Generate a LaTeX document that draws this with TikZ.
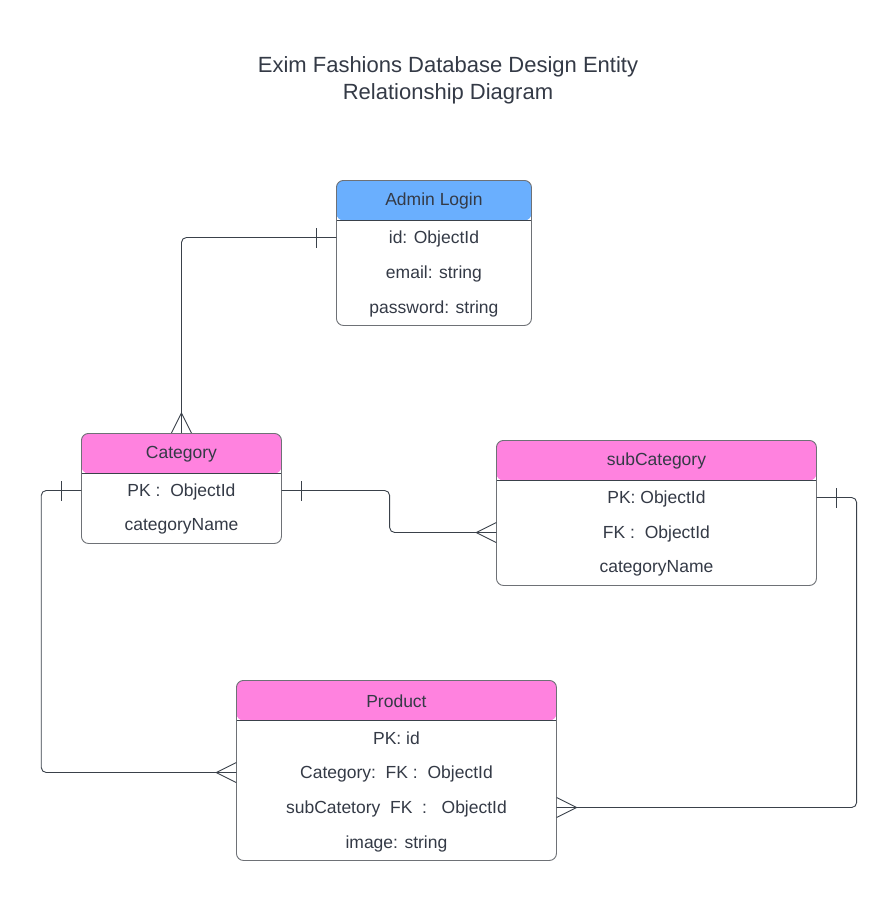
\documentclass[tikz,border=0pt]{standalone}
\usepackage{fontspec}
\setmainfont{Liberation Sans}
\usetikzlibrary{calc}
\definecolor{hblue}{HTML}{6AAFFE}
\definecolor{hpink}{HTML}{FF82DF}
\definecolor{txt}{HTML}{343A46}
\definecolor{ln}{HTML}{3A414A}
\definecolor{bord}{HTML}{6E7176}
\tikzset{
  entity/.style={draw=bord, line width=0.9pt, rounded corners=7pt, anchor=north west, inner sep=0pt,
    path picture={\fill[#1] (path picture bounding box.north west) rectangle ([yshift=-40pt]path picture bounding box.north east);
      \draw[ln, line width=0.9pt] ([yshift=-40pt]path picture bounding box.north west) -- ([yshift=-40pt]path picture bounding box.north east);}},
  hdr/.style={font=\fontsize{17.5}{20}\selectfont, text=txt, inner sep=0pt, yshift=-1pt},
  row/.style={font=\fontsize{17.5}{20}\selectfont, text=txt, inner sep=0pt, minimum height=35pt},
  rowtext/.style={font=\fontsize{17.5}{20}\selectfont, text=txt, inner sep=0pt, yshift=-1pt},
  conn/.style={draw=ln, line width=0.9pt, rounded corners=5pt},
  ermark/.style={draw=ln, line width=0.9pt},
}
\begin{document}
\begin{tikzpicture}[x=1pt,y=1pt]
\useasboundingbox[fill=white] (0,0) rectangle (896,-900);
% title
\node[font=\fontsize{22}{27}\selectfont, text=txt, align=center] (title) at (448,-80) {Exim Fashions Database Design Entity\\Relationship Diagram};

% Admin Login
\node[entity=hblue, minimum width=195pt, minimum height=145pt] (admin) at (336,-180) {};
\node[hdr] (adminH) at ([yshift=-20pt]admin.north) {Admin Login};
\node[row, minimum width=195pt] (adminid) at ([yshift=-57.5pt]admin.north) {};
\node[row, minimum width=195pt] (adminemail) at ([yshift=-92.5pt]admin.north) {};
\node[row, minimum width=195pt] (adminpw) at ([yshift=-127.5pt]admin.north) {};
\node[rowtext] at (adminid) {id: ObjectId};
\node[rowtext] at (adminemail) {email: string};
\node[rowtext] at (adminpw) {password: string};

% Category
\node[entity=hpink, minimum width=200pt, minimum height=110pt] (cat) at (81,-433) {};
\node[hdr] (catH) at ([yshift=-20pt]cat.north) {Category};
\node[row, minimum width=200pt] (catpk) at ([yshift=-57.5pt]cat.north) {};
\node[row, minimum width=200pt] (catname) at ([yshift=-92.5pt]cat.north) {};
\node[rowtext] at (catpk) {PK :\ \ ObjectId};
\node[rowtext] at (catname) {categoryName};

% subCategory
\node[entity=hpink, minimum width=320pt, minimum height=145pt] (sub) at (496,-440) {};
\node[hdr] (subH) at ([yshift=-20pt]sub.north) {subCategory};
\node[row, minimum width=320pt] (subpk) at ([yshift=-57.5pt]sub.north) {};
\node[row, minimum width=320pt] (subfk) at ([yshift=-92.5pt]sub.north) {};
\node[row, minimum width=320pt] (subname) at ([yshift=-127.5pt]sub.north) {};
\node[rowtext] at (subpk) {PK: ObjectId};
\node[rowtext] at (subfk) {FK :\ \ ObjectId};
\node[rowtext] at (subname) {categoryName};

% Product
\node[entity=hpink, minimum width=320pt, minimum height=180pt] (prod) at (236,-680) {};
\node[hdr] (prodH) at ([yshift=-20pt]prod.north) {Product};
\node[row, minimum width=320pt] (prodpk) at ([yshift=-57.5pt]prod.north) {};
\node[row, minimum width=320pt] (prodcat) at ([yshift=-92.5pt]prod.north) {};
\node[row, minimum width=320pt] (prodsub) at ([yshift=-127.5pt]prod.north) {};
\node[row, minimum width=320pt] (prodimg) at ([yshift=-162.5pt]prod.north) {};
\node[rowtext] at (prodpk) {PK: id};
\node[rowtext] at (prodcat) {Category:\ \ FK :\ \ ObjectId};
\node[rowtext] at (prodsub) {subCatetory\ \ FK\ \ :\ \ \ ObjectId};
\node[rowtext] at (prodimg) {image: string};

% Connector 1: Admin id -> Category top
\draw[conn] (adminid.west) -| (cat.north);
\draw[ermark] ($(adminid.west)+(-20,-10)$) -- ++(0,20);
\draw[ermark] ($(cat.north)+(-10,0)$) -- ($(cat.north)+(0,20)$) -- ($(cat.north)+(10,0)$);

% Connector 2: Category PK -> subCategory FK
\draw[conn] (catpk.east) -- ++(108,0) |- (subfk.west);
\draw[ermark] ($(catpk.east)+(20,-10)$) -- ++(0,20);
\draw[ermark] ($(subfk.west)+(0,10)$) -- ($(subfk.west)+(-20,0)$) -- ($(subfk.west)+(0,-10)$);

% Connector 3: Category PK -> Product Category FK
\draw[conn] (catpk.west) -- ++(-40,0) |- (prodcat.west);
\draw[ermark] ($(catpk.west)+(-20,-10)$) -- ++(0,20);
\draw[ermark] ($(prodcat.west)+(0,10)$) -- ($(prodcat.west)+(-20,0)$) -- ($(prodcat.west)+(0,-10)$);

% Connector 4: subCategory PK -> Product subCategory FK
\draw[conn] (subpk.east) -- ++(40,0) |- (prodsub.east);
\draw[ermark] ($(subpk.east)+(20,-10)$) -- ++(0,20);
\draw[ermark] ($(prodsub.east)+(0,10)$) -- ($(prodsub.east)+(20,0)$) -- ($(prodsub.east)+(0,-10)$);
\end{tikzpicture}
\end{document}
